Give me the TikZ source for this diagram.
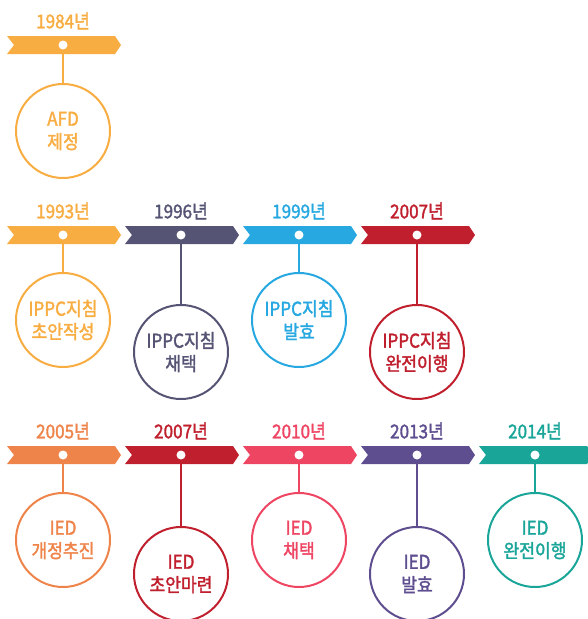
\documentclass[tikz,border=0pt]{standalone}
\usepackage{fontspec}
\setmainfont{Noto Sans CJK KR}[FakeBold=1.8,FakeStretch=0.9]
\definecolor{cOr}{HTML}{F8AD42}
\definecolor{cSl}{HTML}{555474}
\definecolor{cBl}{HTML}{27A8E0}
\definecolor{cRd}{HTML}{C0202E}
\definecolor{cOa}{HTML}{EE844A}
\definecolor{cPk}{HTML}{EE4563}
\definecolor{cPu}{HTML}{5E4E8F}
\definecolor{cTl}{HTML}{1AA599}
\tikzset{
  yearlabel/.style={font=\fontsize{19}{19}\selectfont, text=#1, inner sep=0pt},
  ev/.style={circle, draw=#1, line width=2pt, minimum size=94pt, inner sep=0pt,
    text=#1, align=center, font=\fontsize{19}{23}\selectfont},
  pin/.style={circle, fill=white, minimum size=9pt, inner sep=0pt},
  link/.style={draw=#1, line width=2pt}
}
\newcommand\tlitem[7]{%
  \fill[#5] (#2-56,#3-9) -- (#2+52,#3-9) -- (#2+58,#3) -- (#2+52,#3+9) -- (#2-56,#3+9) -- (#2-49,#3) -- cycle;
  \node[yearlabel=#5] (#1y) at (#2,#3-24) {#6};
  \node[pin] (#1d) at (#2,#3) {};
  \node[ev=#5] (#1c) at (#2,#4) {#7};
  \draw[link=#5] (#1d.south) -- (#1c.north);
}
\begin{document}
\begin{tikzpicture}[x=1pt,y=-1pt]
\useasboundingbox (0,0) rectangle (588,619);
\tlitem{a}{63}{45}{131}{cOr}{1984년}{AFD\\제정}
\tlitem{b}{63}{235}{320}{cOr}{1993년}{IPPC지침\\초안작성}
\tlitem{c}{181}{235}{352}{cSl}{1996년}{IPPC지침\\채택}
\tlitem{d}{299}{235}{320}{cBl}{1999년}{IPPC지침\\발효}
\tlitem{e}{417}{235}{352}{cRd}{2007년}{IPPC지침\\완전이행}
\tlitem{f}{63}{455}{540}{cOa}{2005년}{IED\\개정추진}
\tlitem{g}{181}{455}{574}{cRd}{2007년}{IED\\초안마련}
\tlitem{h}{299}{455}{540}{cPk}{2010년}{IED\\채택}
\tlitem{i}{417}{455}{574}{cPu}{2013년}{IED\\발효}
\tlitem{j}{535}{455}{540}{cTl}{2014년}{IED\\완전이행}
\end{tikzpicture}
\end{document}
